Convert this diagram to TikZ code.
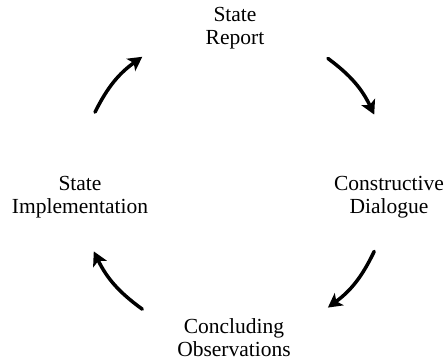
\documentclass[tikz,border=0pt]{standalone}
\usepackage{fontspec}
\setmainfont{Liberation Serif}
\usepackage{tikz}
\usetikzlibrary{arrows.meta}
\tikzset{
	stage/.style={align=center, anchor=north, inner sep=0pt, font=\fontsize{21.5}{23}\selectfont},
	turn/.style={line width=3.5pt, line cap=round, -{Stealth[length=14pt, width=15pt, inset=3.5pt]}, bend left=14}
}

\begin{document}
\begin{tikzpicture}[x=1pt, y=1pt]
	%%%%% START %%%%%
	
	\useasboundingbox (0, 0) rectangle (445, 363);
	
	\node[stage] (report) at (235, 356) {State\\Report};
	\node[stage] (dialogue) at (389, 187) {Constructive\\Dialogue};
	\node[stage] (observations) at (234, 45) {Concluding\\Observations};
	\node[stage] (implementation) at (80, 187) {State\\Implementation};
	
	\coordinate (c) at (234, 180);
	\coordinate (s1) at ([shift={(153:156)}]c);
	\coordinate (e1) at ([shift={(126:156)}]c);
	\coordinate (s2) at ([shift={(53:156)}]c);
	\coordinate (e2) at ([shift={(26:156)}]c);
	\coordinate (s3) at ([shift={(-26:156)}]c);
	\coordinate (e3) at ([shift={(-53:156)}]c);
	\coordinate (s4) at ([shift={(-126:156)}]c);
	\coordinate (e4) at ([shift={(-154:156)}]c);
	
	\draw[turn] (s1) to (e1);
	\draw[turn] (s2) to (e2);
	\draw[turn] (s3) to (e3);
	\draw[turn] (s4) to (e4);
	
	%%%%% END %%%%%
\end{tikzpicture}
\end{document}
